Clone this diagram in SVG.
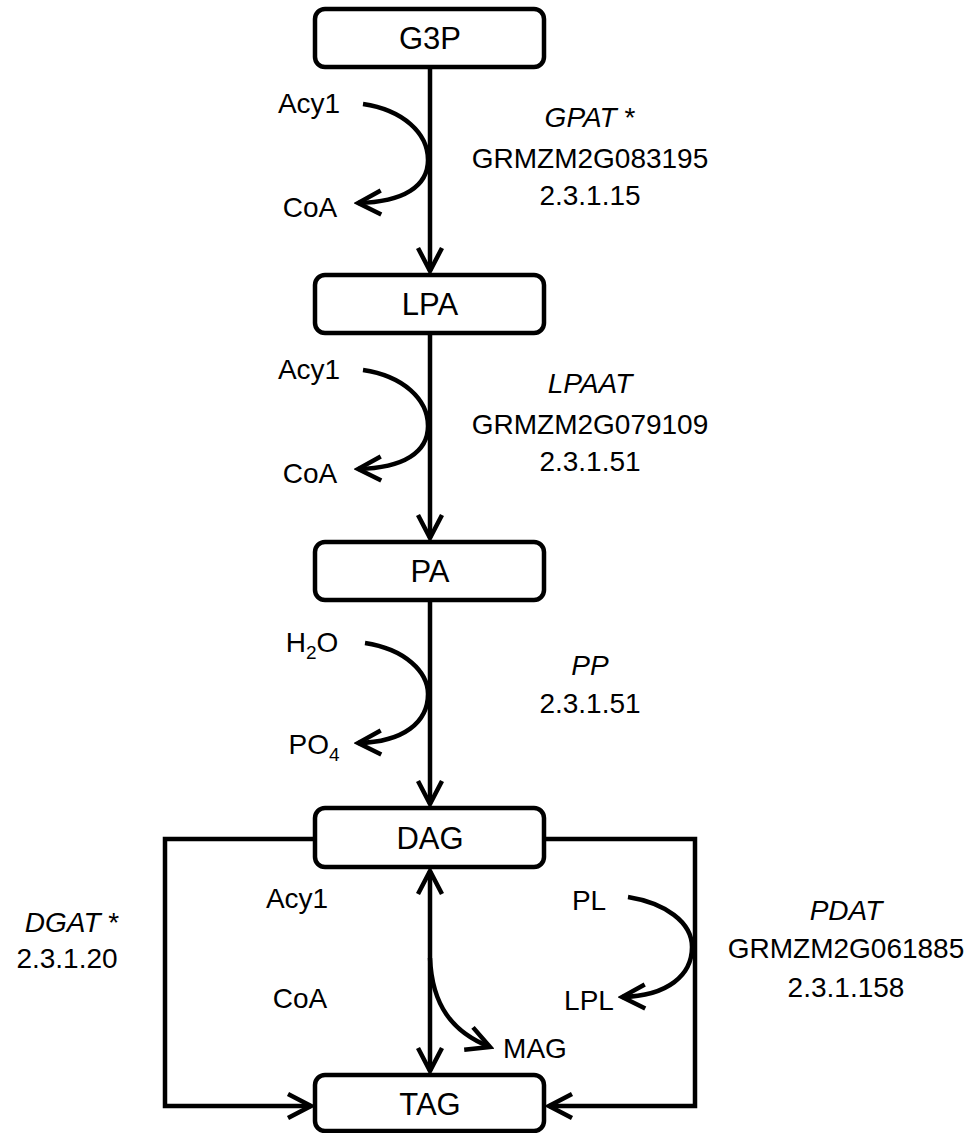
<svg xmlns="http://www.w3.org/2000/svg" width="980" height="1133" viewBox="0 0 980 1133">
<defs>
<style>
.box{fill:#fff;stroke:#000;stroke-width:4.5}
.bt{font-family:"Liberation Sans",Arial,sans-serif;font-size:31px;text-anchor:middle;fill:#000}
.t{font-family:"Liberation Sans",Arial,sans-serif;font-size:28px;text-anchor:middle;fill:#000}
.it{font-style:italic}
.c{fill:none;stroke:#000;stroke-width:4.5}
</style>
<marker id="ah" viewBox="-28 -16 32 32" refX="0" refY="0" markerWidth="32" markerHeight="32" markerUnits="userSpaceOnUse" orient="auto-start-reverse">
<path d="M-23,-12 L0,0 L-23,12" fill="none" stroke="#000" stroke-width="4.5" stroke-linejoin="miter"/>
</marker>
</defs>
<rect width="980" height="1133" fill="#fff"/>
<g id="connectors">
<line class="c" x1="430" y1="67" x2="430" y2="271" marker-end="url(#ah)"/>
<line class="c" x1="430" y1="333" x2="430" y2="538" marker-end="url(#ah)"/>
<line class="c" x1="430" y1="600" x2="430" y2="804" marker-end="url(#ah)"/>
<path class="c" d="M363,104 C403,110 428,133 428,160 C428,186 404,202 358,203" marker-end="url(#ah)"/>
<path class="c" d="M363,370 C403,376 428,399 428,426 C428,452 404,468 358,469" marker-end="url(#ah)"/>
<path class="c" d="M365,643 C405,649 428,672 428,694 C428,722 404,742 358,743" marker-end="url(#ah)"/>
<polyline class="c" points="315,839 165,839 165,1106 311,1106" marker-end="url(#ah)"/>
<polyline class="c" points="545,839 695,839 695,1106 549,1106" marker-end="url(#ah)"/>
<line class="c" x1="430" y1="871" x2="430" y2="1071" marker-start="url(#ah)" marker-end="url(#ah)"/>
<path class="c" d="M430,958 C432,1005 452,1032 490,1047" marker-end="url(#ah)"/>
<path class="c" d="M628,897 C665,903 692,922 692,947 C692,975 668,996 622,997" marker-end="url(#ah)"/>
</g>
<g id="G3P"><rect class="box" x="315" y="9" width="229" height="58" rx="10"/><text class="bt" x="430" y="49">G3P</text></g>
<g id="LPA"><rect class="box" x="315" y="275" width="229" height="58" rx="10"/><text class="bt" x="430" y="315">LPA</text></g>
<g id="PA"><rect class="box" x="315" y="542" width="229" height="58" rx="10"/><text class="bt" x="430" y="582">PA</text></g>
<g id="DAG"><rect class="box" x="315" y="808" width="229" height="59" rx="10"/><text class="bt" x="430" y="849">DAG</text></g>
<g id="TAG"><rect class="box" x="315" y="1075" width="229" height="56" rx="10"/><text class="bt" x="430" y="1115">TAG</text></g>
<g id="labels">
<text class="t" x="309" y="113">Acy1</text>
<text class="t" x="310" y="217">CoA</text>
<text class="t" x="590" y="127"><tspan class="it">GPAT</tspan> *</text>
<text class="t" x="590" y="168">GRMZM2G083195</text>
<text class="t" x="590" y="205">2.3.1.15</text>
<text class="t" x="309" y="379">Acy1</text>
<text class="t" x="310" y="483">CoA</text>
<text class="t" x="590" y="393"><tspan class="it">LPAAT</tspan></text>
<text class="t" x="590" y="434">GRMZM2G079109</text>
<text class="t" x="590" y="471">2.3.1.51</text>
<text class="t" x="312" y="652">H<tspan font-size="19" dy="7">2</tspan><tspan dy="-7">O</tspan></text>
<text class="t" x="314" y="754">PO<tspan font-size="19" dy="7">4</tspan></text>
<text class="t" x="590" y="675"><tspan class="it">PP</tspan></text>
<text class="t" x="590" y="713">2.3.1.51</text>
<text class="t" x="72" y="932"><tspan class="it">DGAT</tspan> *</text>
<text class="t" x="67" y="968">2.3.1.20</text>
<text class="t" x="297" y="908">Acy1</text>
<text class="t" x="300" y="1008">CoA</text>
<text class="t" x="589" y="910">PL</text>
<text class="t" x="589" y="1010">LPL</text>
<text class="t" x="535" y="1058">MAG</text>
<text class="t" x="846" y="920"><tspan class="it">PDAT</tspan></text>
<text class="t" x="846" y="958">GRMZM2G061885</text>
<text class="t" x="846" y="997">2.3.1.158</text>
</g>
</svg>
